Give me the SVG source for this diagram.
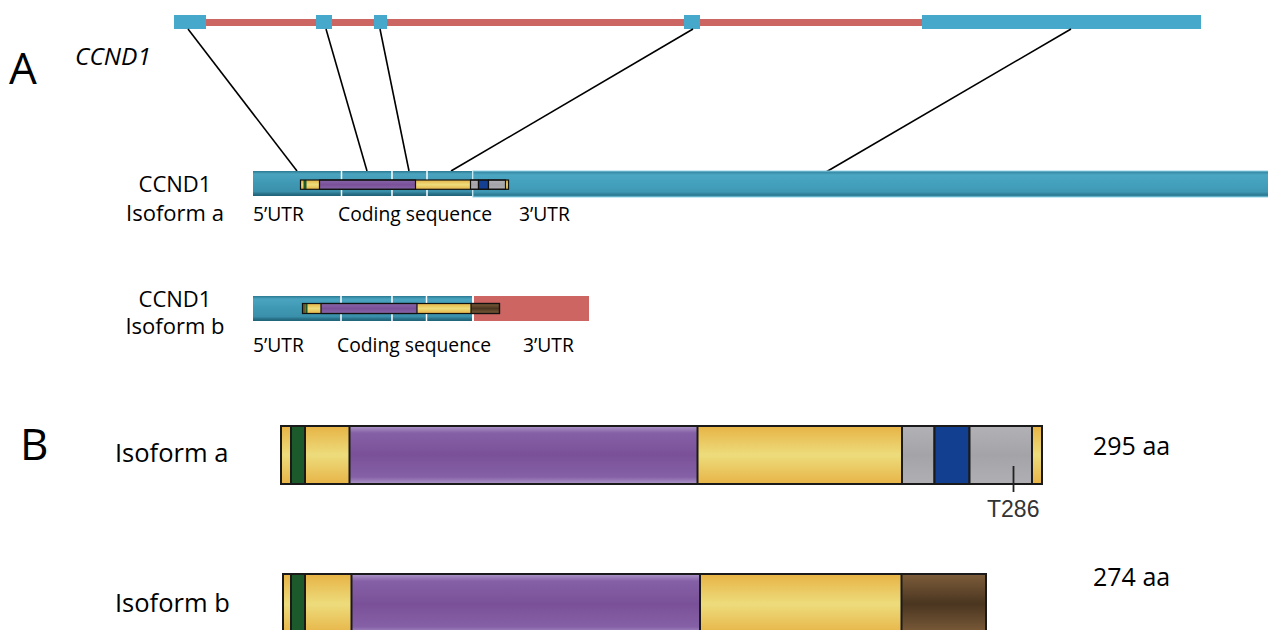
<svg xmlns="http://www.w3.org/2000/svg" width="1268" height="630" viewBox="0 0 1268 630">
<style>
text{font-family:"Open Sans","Noto Sans",sans-serif;fill:#000}
.lbl{font-size:22px;text-anchor:middle}
.sm{font-size:19.3px}
.big{font-size:44px}
.plbl{font-size:25.5px}
.aa{font-size:25px}
.conn line{stroke:#000;stroke-width:1.6}
.div{stroke:#fff;stroke-width:1.5}
.seg{stroke:#111;stroke-width:1.2}
.pseg{stroke:#1a1a1a;stroke-width:2}
</style>
<defs>
<linearGradient id="gTx" x1="0" y1="0" x2="0" y2="1">
<stop offset="0" stop-color="#2a7990"/><stop offset="0.12" stop-color="#4aa4c0"/><stop offset="0.5" stop-color="#3f98b3"/><stop offset="0.82" stop-color="#3a90aa"/><stop offset="0.92" stop-color="#276f86"/><stop offset="1" stop-color="#1f6278"/>
</linearGradient>
<linearGradient id="gTx3" x1="0" y1="0" x2="0" y2="1">
<stop offset="0" stop-color="#2f8099"/><stop offset="0.15" stop-color="#4aa6c3"/><stop offset="0.5" stop-color="#43a0bd"/><stop offset="0.8" stop-color="#3f98b4"/><stop offset="0.92" stop-color="#2d7b93"/><stop offset="1" stop-color="#3a90aa"/>
</linearGradient>
<linearGradient id="gY" x1="0" y1="0" x2="0" y2="1">
<stop offset="0" stop-color="#e7b345"/><stop offset="0.5" stop-color="#eddc7c"/><stop offset="1" stop-color="#e7b447"/>
</linearGradient>
<linearGradient id="gP" x1="0" y1="0" x2="0" y2="1">
<stop offset="0" stop-color="#ad97c8"/><stop offset="0.12" stop-color="#8560a6"/><stop offset="0.5" stop-color="#7a5198"/><stop offset="0.88" stop-color="#8560a6"/><stop offset="1" stop-color="#ad97c8"/>
</linearGradient>
<linearGradient id="gG" x1="0" y1="0" x2="0" y2="1">
<stop offset="0" stop-color="#b2b2b6"/><stop offset="0.5" stop-color="#a4a4a8"/><stop offset="1" stop-color="#b0b0b4"/>
</linearGradient>
<linearGradient id="gBr" x1="0" y1="0" x2="0" y2="1">
<stop offset="0" stop-color="#7d5d3a"/><stop offset="0.5" stop-color="#4a3520"/><stop offset="1" stop-color="#7d5d3a"/>
</linearGradient>
</defs>
<rect width="1268" height="630" fill="#fff"/>

<g id="panel-labels">
<text class="big" x="9" y="84">A</text>
<text class="big" x="20" y="460">B</text>
<text x="75" y="65" style="font-size:24.5px;font-style:italic">CCND1</text>
</g>

<g id="gene">
<rect x="190" y="19" width="740" height="7" fill="#cc6663"/>
<rect x="174" y="15" width="32" height="14" fill="#46a8cb"/>
<rect x="316" y="15" width="16" height="14" fill="#46a8cb"/>
<rect x="374" y="15" width="13" height="14" fill="#46a8cb"/>
<rect x="684" y="15" width="16" height="14" fill="#46a8cb"/>
<rect x="922" y="15" width="279" height="14" fill="#46a8cb"/>
</g>

<g class="conn" id="connectors">
<line x1="188" y1="29" x2="297" y2="171"/>
<line x1="326" y1="29" x2="367" y2="171"/>
<line x1="380" y1="29" x2="409" y2="171"/>
<line x1="693" y1="29" x2="451" y2="171"/>
<line x1="1071" y1="29" x2="826" y2="172"/>
</g>

<g id="isoform-a-transcript">
<text class="lbl" x="175" y="192">CCND1</text>
<text class="lbl" x="175" y="221">Isoform a</text>
<rect x="473" y="171" width="800" height="26" fill="url(#gTx3)" stroke="#8fd4ea" stroke-width="1"/>
<rect x="253" y="171" width="219" height="25" fill="url(#gTx)"/>
<line class="div" x1="341.5" y1="171" x2="341.5" y2="196"/>
<line class="div" x1="392" y1="171" x2="392" y2="196"/>
<line class="div" x1="427" y1="171" x2="427" y2="196"/>
<rect x="300.5" y="180" width="208" height="9.3" fill="url(#gY)"/>
<rect x="303.5" y="180" width="3" height="9.3" fill="#1d5a2b"/>
<rect x="319.5" y="180" width="96" height="9.3" fill="url(#gP)" class="seg"/>
<rect x="470.5" y="180" width="8" height="9.3" fill="url(#gG)" class="seg"/>
<rect x="478.5" y="180" width="10" height="9.3" fill="#153f92" class="seg"/>
<rect x="488.5" y="180" width="17" height="9.3" fill="url(#gG)" class="seg"/>
<rect x="300.5" y="180" width="208" height="9.3" fill="none" class="seg"/>
<text class="sm" x="253" y="221">5’UTR</text>
<text class="sm" x="338" y="221">Coding sequence</text>
<text class="sm" x="519" y="221">3’UTR</text>
</g>

<g id="isoform-b-transcript">
<text class="lbl" x="175" y="307">CCND1</text>
<text class="lbl" x="175" y="334">Isoform b</text>
<rect x="253" y="296" width="219" height="25" fill="url(#gTx)"/>
<rect x="474" y="296" width="115" height="25" fill="#cd6663"/>
<line class="div" x1="341" y1="296" x2="341" y2="321"/>
<line class="div" x1="392" y1="296" x2="392" y2="321"/>
<line class="div" x1="426.5" y1="296" x2="426.5" y2="321"/>
<rect x="302.5" y="303.5" width="197" height="10" fill="url(#gY)"/>
<rect x="302.5" y="303.5" width="3" height="10" fill="#6b5a2a"/>
<rect x="305.5" y="303.5" width="2" height="10" fill="#1d5a2b"/>
<rect x="321" y="303.5" width="96" height="10" fill="url(#gP)" class="seg"/>
<rect x="471" y="303.5" width="28.5" height="10" fill="url(#gBr)" class="seg"/>
<rect x="302.5" y="303.5" width="197" height="10" fill="none" class="seg"/>
<text class="sm" x="253" y="352">5’UTR</text>
<text class="sm" x="337" y="352">Coding sequence</text>
<text class="sm" x="523" y="352">3’UTR</text>
</g>

<g id="isoform-a-protein">
<text class="plbl" x="115" y="462">Isoform a</text>
<rect x="281" y="426" width="761" height="58" fill="url(#gY)"/>
<rect x="291" y="426" width="14" height="58" fill="#1d5a2b" class="pseg"/>
<rect x="349.5" y="426" width="348" height="58" fill="url(#gP)" class="pseg"/>
<rect x="902" y="426" width="32.5" height="58" fill="url(#gG)" class="pseg"/>
<rect x="934.5" y="426" width="35" height="58" fill="#133f91" class="pseg"/>
<rect x="969.5" y="426" width="62.5" height="58" fill="url(#gG)" class="pseg"/>
<rect x="281" y="426" width="761" height="58" fill="none" class="pseg"/>
<line x1="1013.5" y1="466" x2="1013.5" y2="492" stroke="#222" stroke-width="1.8"/>
<text x="987" y="517" style="font-family:'Liberation Sans',Arial,sans-serif;font-size:23px;fill:#333">T286</text>
<text class="aa" x="1093" y="455">295 aa</text>
</g>

<g id="isoform-b-protein">
<text class="plbl" x="115" y="612">Isoform b</text>
<rect x="283" y="574" width="703" height="60" fill="url(#gY)"/>
<rect x="291" y="574" width="14" height="60" fill="#1d5a2b" class="pseg"/>
<rect x="351.5" y="574" width="348.5" height="60" fill="url(#gP)" class="pseg"/>
<rect x="901.5" y="574" width="84.5" height="60" fill="url(#gBr)" class="pseg"/>
<rect x="283" y="574" width="703" height="60" fill="none" class="pseg"/>
<text class="aa" x="1093" y="586">274 aa</text>
</g>
</svg>
